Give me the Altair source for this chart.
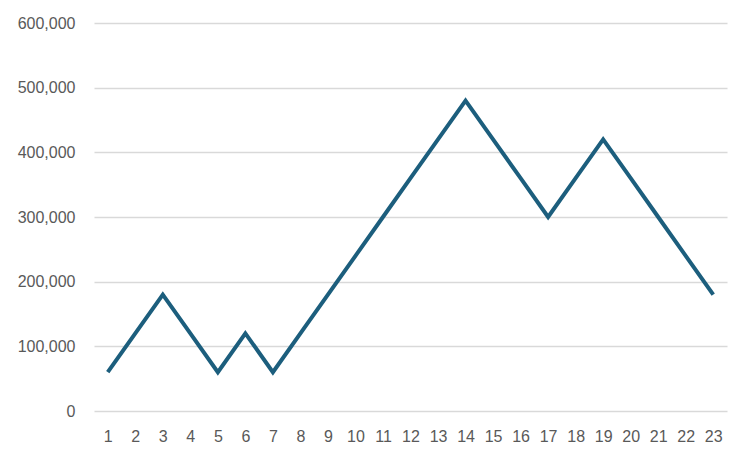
import altair as alt
import pandas as pd

categories = list(range(1, 24))
values = [60000, 120000, 180000, 120000, 60000, 120000, 60000, 120000, 180000,
          240000, 300000, 360000, 420000, 480000, 420000, 360000, 300000,
          360000, 420000, 360000, 300000, 240000, 180000]
y_ticks = [0, 100000, 200000, 300000, 400000, 500000, 600000]

df = pd.DataFrame({"cat": categories, "value": values})

chart = alt.Chart(df).mark_line(
    color="#1C5E7D", strokeWidth=4, strokeJoin="miter", strokeCap="butt"
).encode(
    x=alt.X("cat:O", sort=categories, title=None,
            scale=alt.Scale(paddingInner=0, paddingOuter=0.5),
            axis=alt.Axis(labelAngle=0, ticks=False, domain=False, grid=False,
                          labelPadding=17, labelFontSize=16, labelColor="#595959",
                          labelFont="Liberation Sans")),
    y=alt.Y("value:Q", title=None,
            scale=alt.Scale(domain=[0, 600000], nice=False),
            axis=alt.Axis(values=y_ticks, format=",d", ticks=False, domain=False,
                          grid=True, gridColor="#D9D9D9", gridWidth=1.5,
                          labelPadding=19, labelFontSize=16, labelColor="#595959",
                          labelFont="Liberation Sans")),
).properties(
    width=633, height=388,
    background="white",
    autosize=alt.AutoSizeParams(type="none"),
    padding={"left": 86, "top": 15, "right": 16, "bottom": 40},
).configure_view(stroke=None)

chart.save("out.html", embed_options={"renderer": "svg", "actions": False})
